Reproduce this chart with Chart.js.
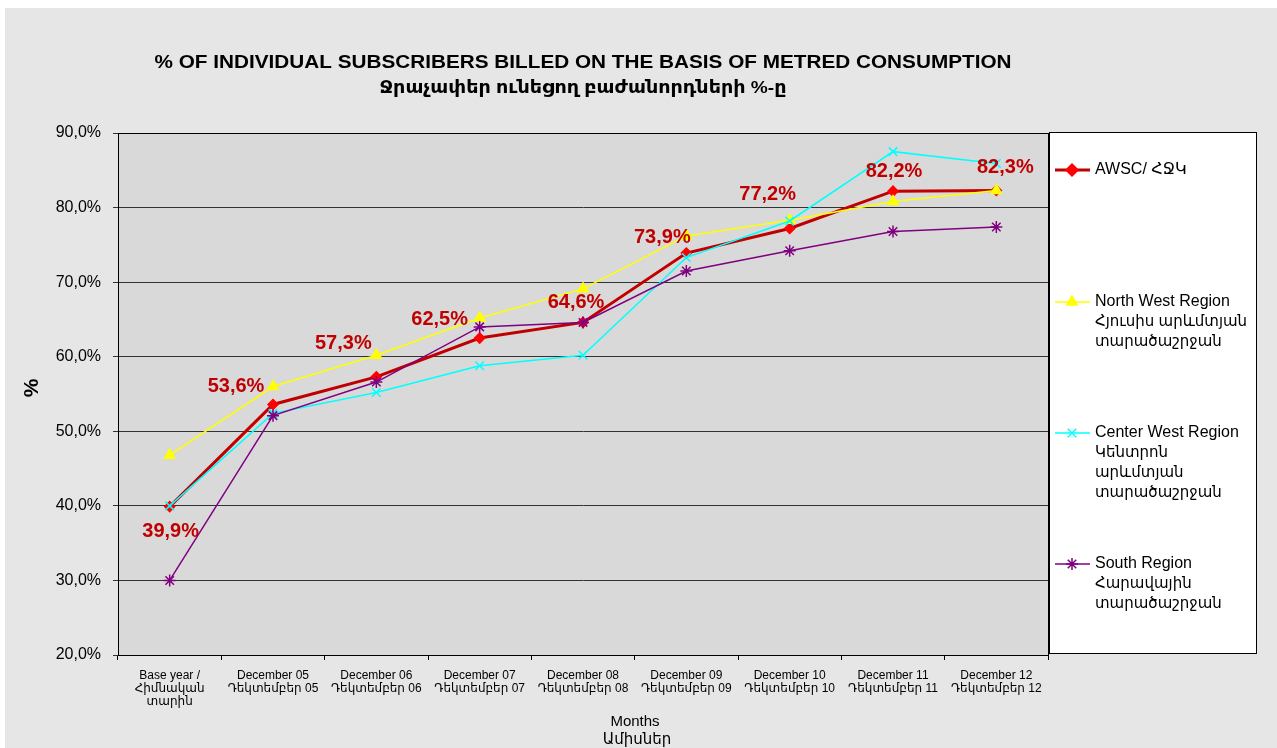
<!DOCTYPE html>
<html>
<head>
<meta charset="utf-8">
<script src="https://cdn.jsdelivr.net/npm/chart.js@4.4.1/dist/chart.umd.min.js"></script>
<style>
  html, body { margin: 0; padding: 0; background: #fff; }
  #chart { display: block; }
</style>
</head>
<body>
<canvas id="chart" width="1277" height="748"></canvas>
<script>
const categories = [
  ['Base year /', 'Հիմնական', 'տարին'],
  ['December 05', 'Դեկտեմբեր 05'],
  ['December 06', 'Դեկտեմբեր 06'],
  ['December 07', 'Դեկտեմբեր 07'],
  ['December 08', 'Դեկտեմբեր 08'],
  ['December 09', 'Դեկտեմբեր 09'],
  ['December 10', 'Դեկտեմբեր 10'],
  ['December 11', 'Դեկտեմբեր 11'],
  ['December 12', 'Դեկտեմբեր 12'],
];

const awsc = [39.9, 53.6, 57.3, 62.5, 64.6, 73.9, 77.2, 82.2, 82.3];
const northWest = [46.8, 56.0, 60.2, 65.2, 69.1, 76.2, 78.3, 80.8, 82.3];
const centerWest = [40.0, 52.4, 55.2, 58.8, 60.2, 73.3, 78.2, 87.5, 85.9];
const south = [30.0, 52.1, 56.6, 64.0, 64.6, 71.5, 74.2, 76.8, 77.4];

const seriesNames = [
  ['AWSC/ ՀՋԿ'],
  ['North West Region', 'Հյուսիս արևմտյան', 'տարածաշրջան'],
  ['Center West Region', 'Կենտրոն', 'արևմտյան', 'տարածաշրջան'],
  ['South Region', 'Հարավային', 'տարածաշրջան'],
];

const yTicks = [20, 30, 40, 50, 60, 70, 80, 90];

const titleText = '% OF INDIVIDUAL SUBSCRIBERS BILLED ON THE BASIS OF METRED CONSUMPTION';
const subtitleText = 'Ջրաչափեր ունեցող բաժանորդների %-ը';
const xTitle = ['Months', 'Ամիսներ'];
const yTitle = '%';

const FONT = 'Arial, "Liberation Sans", "DejaVu Sans", sans-serif';
const pct = (v) => v.toFixed(1).replace('.', ',') + '%';

// where each AWSC value label sits relative to its point
const labelOffsets = [[1, 25], [-37, -18], [-33, -33], [-40, -19], [-7, -20], [-24, -16], [-22, -34], [1, -20], [9, -23]];
// first-line offset of each legend entry from the top of the plot
const legendRows = [37, 169, 300, 431];

const styles = [
  { line: '#c00000', fill: '#ff0000', width: 3, point: 'rectRot', r: 5 },
  { line: '#ffff00', fill: '#ffff00', width: 1.5, point: 'triangle', r: 6 },
  { line: '#00ffff', fill: '#00ffff', width: 1.5, point: 'crossRot', r: 6 },
  { line: '#800080', fill: '#800080', width: 1.5, point: 'star', r: 6 },
];

function drawFitted(ctx, text, x, y, font, width) {
  ctx.font = font;
  const s = width / ctx.measureText(text).width;
  ctx.save();
  ctx.translate(x, y);
  ctx.scale(s, 1);
  ctx.fillText(text, 0, 0);
  ctx.restore();
}

const decor = {
  id: 'decor',
  beforeDraw(chart) {
    const { ctx, chartArea: a } = chart;
    ctx.save();
    ctx.fillStyle = '#e6e6e6';
    ctx.fillRect(5, 8, chart.width - 5, chart.height - 8);
    ctx.fillStyle = '#d9d9d9';
    ctx.fillRect(a.left, a.top, a.right - a.left, a.bottom - a.top);
    ctx.restore();
  },
  beforeDatasetsDraw(chart) {
    const { ctx, chartArea: a } = chart;
    ctx.save();
    ctx.strokeStyle = '#000';
    ctx.lineWidth = 1;
    ctx.strokeRect(a.left + 0.5, a.top + 0.5, a.right - a.left, a.bottom - a.top);
    ctx.restore();
  },
  afterDatasetsDraw(chart) {
    const { ctx } = chart;
    const meta = chart.getDatasetMeta(0);
    ctx.save();
    ctx.fillStyle = '#c00000';
    ctx.font = 'bold 20px ' + FONT;
    ctx.textAlign = 'center';
    ctx.textBaseline = 'middle';
    awsc.forEach((v, i) => {
      const p = meta.data[i];
      ctx.fillText(pct(v), p.x + labelOffsets[i][0], p.y + labelOffsets[i][1]);
    });
    ctx.restore();
  },
  afterDraw(chart) {
    const { ctx, chartArea: a } = chart;
    const cx = (a.left + a.right) / 2;
    ctx.save();
    ctx.fillStyle = '#000';
    ctx.textAlign = 'center';
    ctx.textBaseline = 'middle';
    drawFitted(ctx, titleText, cx, 63, 'bold 19px ' + FONT, 857);
    drawFitted(ctx, subtitleText, cx, 88, 'bold 17px ' + FONT, 407);

    // axis titles
    ctx.font = '15px ' + FONT;
    ctx.fillText(xTitle[0], cx + 52, 722);
    ctx.fillText(xTitle[1], cx + 54, 740);
    ctx.save();
    ctx.translate(32, (a.top + a.bottom) / 2 - 6);
    ctx.rotate(-Math.PI / 2);
    ctx.font = 'bold 21px ' + FONT;
    ctx.fillText(yTitle, 0, 0);
    ctx.restore();

    // legend
    const lx = a.right + 1, ly = a.top - 1;
    ctx.fillStyle = '#fff';
    ctx.fillRect(lx, ly, 207, a.bottom - a.top - 1);
    ctx.strokeStyle = '#000';
    ctx.lineWidth = 1;
    ctx.strokeRect(lx + 0.5, ly + 0.5, 207, a.bottom - a.top - 1);
    ctx.textAlign = 'left';
    seriesNames.forEach((lines, i) => {
      const st = styles[i];
      const y = a.top + legendRows[i];
      ctx.strokeStyle = st.line;
      ctx.lineWidth = st.width;
      ctx.beginPath();
      ctx.moveTo(lx + 6, y);
      ctx.lineTo(lx + 41, y);
      ctx.stroke();
      ctx.fillStyle = st.fill;
      ctx.strokeStyle = st.fill;
      Chart.helpers.drawPoint(ctx, { pointStyle: st.point, radius: st.r, rotation: 0, borderWidth: 1.5 }, lx + 23, y);
      ctx.fillStyle = '#000';
      lines.forEach((t, k) => {
        ctx.font = (k === 0 ? '16px ' : '15px ') + FONT;
        ctx.fillText(t, lx + 46, y + k * 20);
      });
    });
    ctx.restore();
  },
};

const seriesData = [awsc, northWest, centerWest, south];

const config = {
  type: 'line',
  data: {
    labels: categories,
    datasets: seriesData.map((d, i) => ({
      label: seriesNames[i].join(' '),
      data: d,
      borderColor: styles[i].line,
      borderWidth: styles[i].width,
      backgroundColor: styles[i].fill,
      pointBackgroundColor: styles[i].fill,
      pointBorderColor: styles[i].fill,
      pointBorderWidth: 1.5,
      pointStyle: styles[i].point,
      pointRadius: styles[i].r,
      tension: 0,
      order: 4 - i,
    })),
  },
  options: {
    responsive: false,
    animation: false,
    layout: { padding: { top: 133, right: 229, bottom: 0, left: 0 } },
    plugins: {
      legend: { display: false },
      tooltip: { enabled: false },
      title: { display: false },
    },
    scales: {
      x: {
        offset: true,
        afterFit(scale) { scale.height = 93; },
        grid: { drawOnChartArea: false, drawTicks: true, tickLength: 5, offset: true, color: '#000' },
        border: { display: true, color: '#000' },
        ticks: {
          color: '#000',
          font: { family: FONT, size: 12, lineHeight: 1.1 },
          padding: 9,
          maxRotation: 0,
          autoSkip: false,
        },
      },
      y: {
        min: 20,
        max: 90,
        afterFit(scale) { scale.width = 118; },
        afterBuildTicks(scale) { scale.ticks = yTicks.map((v) => ({ value: v })); },
        grid: { color: '#333', lineWidth: 1, tickLength: 5 },
        border: { display: true, color: '#000' },
        ticks: {
          color: '#000',
          font: { family: FONT, size: 16 },
          padding: 12,
          callback: (v) => pct(v),
        },
      },
    },
  },
  plugins: [decor],
};

const canv = document.querySelector('#chart');
const chart = new Chart(canv, config);
</script>
</body>
</html>
